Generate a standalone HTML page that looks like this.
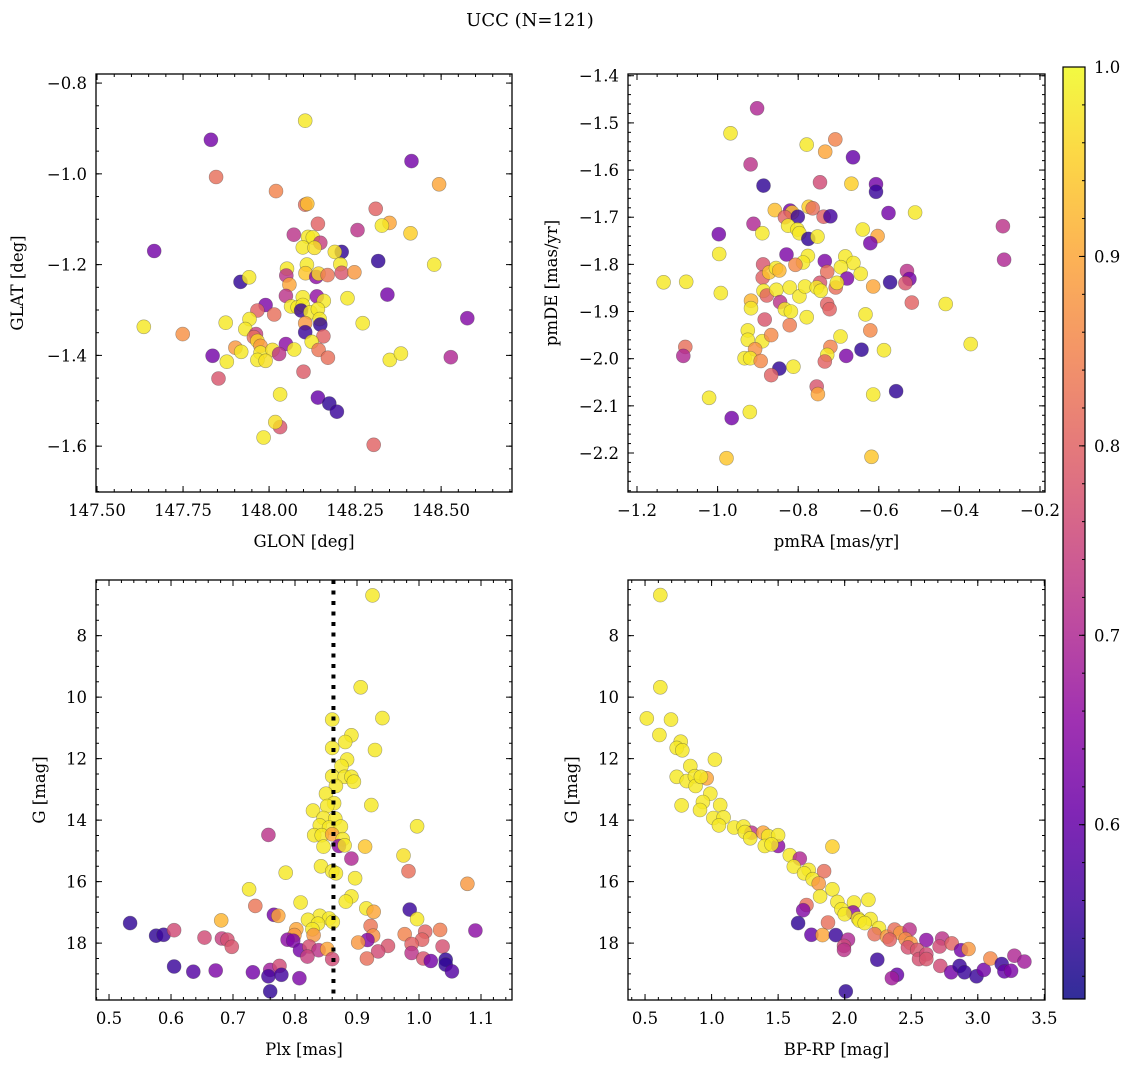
<!DOCTYPE html>
<html><head><meta charset="utf-8">
<style>
html,body{margin:0;padding:0;background:#fff;}
svg{display:block;font-family:"DejaVu Serif","Liberation Serif",serif;}
</style></head>
<body>
<svg id="fig" width="1136" height="1067" viewBox="0 0 1136 1067" xmlns="http://www.w3.org/2000/svg">
<text x="530" y="26" font-size="18" text-anchor="middle">UCC (N=121)</text>
</svg>
<script>
// ---------- Panel 1: GLON vs GLAT ----------
const glonVals=[148.105,147.831,148.414,147.846,148.494,148.020,148.105,148.111,148.310,148.350,148.328,148.142,148.411,148.257,148.072,148.113,148.127,148.149,148.098,148.132,148.211,148.191,147.666,148.317,148.480,148.110,148.207,148.052,148.106,148.050,148.137,148.144,148.170,148.211,148.248,147.917,147.942,148.059,148.049,148.139,148.098,148.228,148.344,148.159,148.064,148.083,148.098,147.990,148.093,148.120,148.142,148.147,148.149,147.966,148.015,148.105,148.105,148.576,147.874,147.943,147.931,147.636,147.749,147.962,147.956,147.966,148.272,148.158,148.124,148.049,147.975,147.902,147.919,147.975,148.010,148.029,148.073,148.144,148.171,147.836,147.877,147.966,147.990,148.351,148.383,148.528,147.853,148.100,148.032,148.142,148.175,148.197,148.032,148.018,147.984,148.304];
const glatVals=[-0.883,-0.925,-0.972,-1.007,-1.023,-1.038,-1.068,-1.066,-1.077,-1.108,-1.114,-1.110,-1.131,-1.124,-1.134,-1.139,-1.140,-1.152,-1.162,-1.163,-1.172,-1.172,-1.170,-1.192,-1.200,-1.200,-1.199,-1.209,-1.219,-1.224,-1.227,-1.220,-1.223,-1.218,-1.217,-1.238,-1.228,-1.244,-1.269,-1.270,-1.272,-1.274,-1.266,-1.280,-1.292,-1.294,-1.289,-1.289,-1.301,-1.305,-1.298,-1.320,-1.332,-1.301,-1.310,-1.329,-1.349,-1.318,-1.328,-1.320,-1.342,-1.337,-1.353,-1.353,-1.360,-1.368,-1.329,-1.358,-1.370,-1.375,-1.379,-1.383,-1.392,-1.394,-1.388,-1.397,-1.387,-1.388,-1.405,-1.401,-1.414,-1.410,-1.412,-1.410,-1.396,-1.404,-1.451,-1.436,-1.486,-1.493,-1.506,-1.524,-1.558,-1.547,-1.581,-1.597];
const probP1=[0.98,0.62,0.62,0.82,0.9,0.85,0.82,0.93,0.8,0.9,0.98,0.8,0.95,0.72,0.72,0.98,0.98,0.74,0.98,0.97,0.54,0.97,0.62,0.54,0.98,0.98,0.98,0.98,0.94,0.72,0.65,0.96,0.83,0.78,0.88,0.54,0.98,0.9,0.72,0.66,0.98,0.98,0.62,0.98,0.98,0.98,0.98,0.63,0.55,0.98,0.98,0.98,0.54,0.8,0.82,0.88,0.55,0.64,0.98,0.98,0.98,0.98,0.87,0.74,0.82,0.96,0.98,0.8,0.98,0.65,0.88,0.88,0.98,0.98,0.97,0.72,0.98,0.83,0.82,0.62,0.98,0.98,0.97,0.98,0.98,0.7,0.78,0.79,0.98,0.6,0.54,0.55,0.78,0.97,0.98,0.8];
const p1XTicks=[147.50,147.75,148.00,148.25,148.50];
const p1YTicks=[-0.8,-1.0,-1.2,-1.4,-1.6];

// ---------- Panel 2: pmRA vs pmDE ----------
const pmraVals=[-0.902,-0.968,-0.779,-0.708,-0.733,-0.664,-0.918,-0.886,-0.746,-0.668,-0.607,-0.607,-0.858,-0.820,-0.815,-0.833,-0.801,-0.774,-0.764,-0.737,-0.720,-0.576,-0.510,-0.911,-0.825,-0.802,-0.797,-0.889,-0.775,-0.752,-0.640,-0.603,-0.621,-0.997,-0.996,-0.829,-0.776,-0.788,-0.807,-0.734,-0.683,-0.663,-0.694,-0.887,-0.888,-0.872,-0.855,-0.847,-0.728,-0.645,-0.679,-0.530,-0.524,-0.534,-0.572,-0.292,-0.289,-1.134,-1.078,-0.992,-0.886,-0.878,-0.854,-0.821,-0.797,-0.783,-0.746,-0.754,-0.744,-0.707,-0.704,-0.614,-0.917,-0.917,-0.845,-0.833,-0.818,-0.728,-0.722,-0.518,-0.434,-0.883,-0.779,-0.821,-0.633,-0.621,-0.925,-0.925,-0.889,-0.867,-0.907,-0.933,-0.919,-0.893,-0.695,-0.720,-0.728,-0.734,-0.681,-0.643,-0.587,-0.372,-1.080,-1.085,-0.847,-0.867,-0.812,-0.754,-0.751,-0.614,-0.557,-1.021,-0.920,-0.965,-0.978,-0.618];
const pmdeVals=[-1.469,-1.522,-1.546,-1.535,-1.561,-1.573,-1.588,-1.633,-1.626,-1.629,-1.630,-1.646,-1.685,-1.686,-1.690,-1.700,-1.699,-1.678,-1.681,-1.699,-1.698,-1.691,-1.690,-1.714,-1.718,-1.726,-1.734,-1.734,-1.746,-1.741,-1.726,-1.740,-1.755,-1.736,-1.778,-1.779,-1.782,-1.796,-1.801,-1.793,-1.783,-1.797,-1.806,-1.800,-1.828,-1.817,-1.808,-1.813,-1.816,-1.820,-1.830,-1.814,-1.831,-1.840,-1.838,-1.719,-1.790,-1.838,-1.837,-1.861,-1.856,-1.866,-1.854,-1.849,-1.868,-1.847,-1.839,-1.849,-1.856,-1.849,-1.839,-1.847,-1.877,-1.893,-1.880,-1.895,-1.900,-1.884,-1.895,-1.881,-1.884,-1.917,-1.912,-1.929,-1.906,-1.940,-1.940,-1.960,-1.963,-1.950,-1.980,-1.999,-1.999,-2.005,-1.953,-1.975,-1.992,-2.006,-1.994,-1.981,-1.982,-1.969,-1.975,-1.994,-2.021,-2.035,-2.017,-2.059,-2.075,-2.076,-2.069,-2.083,-2.113,-2.126,-2.211,-2.208];
const probP2=[0.7,0.98,0.98,0.85,0.9,0.6,0.72,0.54,0.76,0.95,0.62,0.55,0.93,0.62,0.94,0.8,0.55,0.95,0.82,0.8,0.56,0.62,0.98,0.7,0.98,0.98,0.98,0.98,0.54,0.98,0.98,0.9,0.62,0.62,0.98,0.63,0.98,0.98,0.86,0.63,0.98,0.98,0.98,0.78,0.8,0.94,0.98,0.92,0.82,0.98,0.63,0.72,0.62,0.78,0.54,0.72,0.7,0.98,0.98,0.98,0.98,0.8,0.98,0.98,0.98,0.98,0.78,0.98,0.98,0.82,0.98,0.9,0.92,0.98,0.72,0.98,0.98,0.8,0.8,0.8,0.98,0.78,0.98,0.84,0.98,0.86,0.98,0.98,0.98,0.86,0.87,0.98,0.98,0.86,0.98,0.85,0.98,0.8,0.63,0.54,0.98,0.98,0.82,0.7,0.54,0.8,0.98,0.78,0.9,0.98,0.54,0.98,0.98,0.62,0.94,0.94];
const p2XTicks=[-1.2,-1.0,-0.8,-0.6,-0.4,-0.2];
const p2YTicks=[-1.4,-1.5,-1.6,-1.7,-1.8,-1.9,-2.0,-2.1,-2.2];

// ---------- Panel 3: Plx vs G ----------
const plxVals=[0.925,0.906,0.941,0.860,0.891,0.881,0.929,0.860,0.884,0.875,0.860,0.880,0.891,0.895,0.866,0.850,0.863,0.852,0.923,0.829,0.846,0.865,0.840,0.855,0.874,0.997,0.757,0.831,0.843,0.860,0.877,0.871,0.880,0.846,0.913,0.891,0.975,0.842,0.860,0.866,0.983,0.785,0.897,1.078,0.726,0.891,0.882,0.809,0.736,0.915,0.927,0.766,0.773,0.985,0.997,0.840,0.855,0.821,0.837,0.861,0.681,0.534,0.828,0.802,0.576,0.588,0.605,0.654,0.682,0.691,0.698,0.799,0.830,0.788,0.797,0.922,0.926,0.917,0.902,0.977,1.010,1.034,1.091,1.005,0.988,1.038,0.950,0.934,0.808,0.823,0.838,0.852,0.820,0.860,0.916,0.988,1.007,1.019,1.043,1.043,1.053,0.605,0.636,0.672,0.732,0.760,0.775,0.757,0.778,0.807,0.760];
const gPlxVals=[6.69,9.68,10.68,10.73,11.24,11.46,11.72,11.65,12.03,12.24,12.57,12.59,12.59,12.75,12.89,13.14,13.45,13.54,13.51,13.69,13.93,13.95,14.17,14.24,14.21,14.20,14.48,14.49,14.49,14.46,14.62,14.84,14.82,14.86,14.86,15.25,15.15,15.50,15.66,15.73,15.66,15.71,15.89,16.07,16.25,16.48,16.65,16.68,16.79,16.87,16.98,17.08,17.11,16.91,17.22,17.11,17.20,17.24,17.37,17.31,17.26,17.35,17.55,17.55,17.76,17.73,17.58,17.82,17.85,17.89,18.12,17.74,17.74,17.89,17.92,17.44,17.76,17.90,17.98,17.71,17.63,17.57,17.59,17.89,18.03,18.11,18.09,18.27,18.23,18.11,18.23,18.19,18.44,18.52,18.50,18.32,18.50,18.58,18.54,18.70,18.92,18.76,18.93,18.89,18.95,18.87,18.74,19.08,19.03,19.14,19.57];
const probP3=[0.98,0.98,0.98,0.98,0.98,0.98,0.98,0.98,0.98,0.98,0.98,0.98,0.98,0.98,0.98,0.98,0.98,0.98,0.98,0.98,0.98,0.98,0.98,0.98,0.98,0.98,0.72,0.98,0.98,0.9,0.98,0.65,0.98,0.98,0.94,0.7,0.97,0.98,0.98,0.98,0.82,0.98,0.98,0.88,0.98,0.98,0.98,0.98,0.83,0.98,0.9,0.62,0.9,0.55,0.98,0.98,0.98,0.98,0.98,0.98,0.92,0.54,0.98,0.9,0.54,0.55,0.76,0.76,0.74,0.77,0.78,0.88,0.88,0.65,0.63,0.83,0.87,0.64,0.88,0.85,0.8,0.84,0.65,0.8,0.8,0.77,0.78,0.76,0.62,0.77,0.72,0.9,0.74,0.76,0.82,0.72,0.78,0.62,0.54,0.54,0.58,0.55,0.58,0.63,0.62,0.68,0.76,0.56,0.56,0.63,0.54];
const plxRef=[0.862];
const p3XTicks=[0.5,0.6,0.7,0.8,0.9,1.0,1.1];
const p3YTicks=[8,10,12,14,16,18];

// ---------- Panel 4: BP-RP vs G ----------
const bprpVals=[0.615,0.615,0.513,0.695,0.608,0.768,0.738,0.780,1.025,0.840,0.738,0.813,0.875,0.880,0.963,0.920,0.990,0.935,0.913,0.775,1.065,1.013,1.090,1.055,1.170,1.240,1.300,1.250,1.290,1.388,1.425,1.500,1.500,1.400,1.450,1.908,1.588,1.663,1.618,1.730,1.695,1.845,1.760,1.805,1.908,1.815,1.945,2.070,2.178,1.713,1.688,1.975,2.063,2.000,2.100,2.195,2.113,2.150,1.650,1.875,2.258,2.225,1.750,1.833,1.933,2.025,1.995,1.995,2.318,2.375,2.418,2.338,2.488,2.458,2.495,2.475,2.613,2.545,2.558,2.613,2.613,2.733,2.713,2.805,2.718,2.245,2.393,2.355,2.008,2.875,2.930,2.800,2.863,2.900,2.990,3.045,3.095,3.180,3.200,3.250,3.275,3.350];
const gCmdVals=[6.68,9.68,10.69,10.73,11.23,11.45,11.65,11.73,12.03,12.24,12.59,12.73,12.57,12.89,12.64,12.59,13.14,13.41,13.67,13.52,13.51,13.93,13.91,14.17,14.24,14.21,14.41,14.39,14.59,14.41,14.52,14.84,14.49,14.84,14.79,14.86,15.14,15.25,15.51,15.62,15.73,15.66,15.92,16.06,16.25,16.48,16.66,16.68,16.59,16.76,16.93,16.90,17.00,17.06,17.20,17.22,17.27,17.35,17.35,17.33,17.51,17.71,17.73,17.74,17.74,17.89,18.09,18.22,17.79,17.56,17.67,17.89,17.56,17.87,18.00,18.14,17.90,18.22,18.52,18.36,18.52,17.85,18.11,18.01,18.74,18.54,19.03,19.14,19.57,18.23,18.19,18.95,18.74,18.95,19.08,18.87,18.50,18.68,18.92,18.90,18.41,18.60];
const probP4=[0.98,0.98,0.98,0.98,0.98,0.98,0.98,0.98,0.98,0.98,0.98,0.98,0.98,0.98,0.9,0.98,0.98,0.98,0.98,0.98,0.98,0.98,0.98,0.98,0.98,0.98,0.72,0.98,0.98,0.9,0.98,0.65,0.98,0.98,0.98,0.95,0.98,0.7,0.98,0.98,0.98,0.82,0.98,0.88,0.98,0.98,0.98,0.98,0.98,0.82,0.64,0.98,0.65,0.98,0.98,0.98,0.98,0.98,0.54,0.82,0.98,0.82,0.6,0.9,0.55,0.7,0.75,0.72,0.88,0.82,0.88,0.8,0.72,0.86,0.88,0.77,0.65,0.78,0.77,0.76,0.78,0.72,0.76,0.8,0.76,0.55,0.6,0.68,0.54,0.62,0.88,0.62,0.55,0.55,0.55,0.62,0.86,0.55,0.6,0.63,0.7,0.68];
const p4XTicks=[0.5,1.0,1.5,2.0,2.5,3.0,3.5];
const p4YTicks=[8,10,12,14,16,18];

// ---------- Colorbar ----------
const cbTicks=[0.6,0.7,0.8,0.9,1.0];
const cbMin=0.508, cbMax=1.0;

const NS='http://www.w3.org/2000/svg';
const svg=document.getElementById('fig');
function mk(tag,attrs,parent){const e=document.createElementNS(NS,tag);for(const k in attrs)e.setAttribute(k,attrs[k]);(parent||svg).appendChild(e);return e;}

const plasmaStops=[[13,8,135],[65,4,157],[106,0,168],[143,13,164],[177,42,144],[204,71,120],[225,100,98],[242,132,75],[252,166,54],[252,206,37],[240,249,33]];
function plasma(t){t=Math.max(0,Math.min(1,t));const f=t*10;const i=Math.min(9,Math.floor(f));const u=f-i;const a=plasmaStops[i],b=plasmaStops[i+1];
 return 'rgb('+[0,1,2].map(k=>Math.round(a[k]+(b[k]-a[k])*u)).join(',')+')';}
function colorOf(p){return plasma((p-cbMin)/(cbMax-cbMin));}

function fmt(v,d){const s=Math.abs(v).toFixed(d);return (v<0?'\u2212':'')+s;}
const FS=16.5;

function panel(cfg){
 const g=mk('g',{});
 
 
 const L=cfg.box[0],T=cfg.box[1],R=cfg.box[2],B=cfg.box[3];
 const sx=v=>L+(v-cfg.xr[0])/(cfg.xr[1]-cfg.xr[0])*(R-L);
 const sy=v=>cfg.yinv? T+(v-cfg.yr[0])/(cfg.yr[1]-cfg.yr[0])*(B-T) : B-(v-cfg.yr[0])/(cfg.yr[1]-cfg.yr[0])*(B-T);
 const pts=mk('g',{},g);
 
 
 for(let i=0;i<cfg.xs.length;i++){
  const c=mk('circle',{cx:sx(cfg.xs[i]).toFixed(1),cy:sy(cfg.ys[i]).toFixed(1),r:7,fill:colorOf(cfg.ps[i]),'fill-opacity':0.82,stroke:'rgba(60,60,60,0.45)','stroke-width':0.6},pts);
  
  
 }
 if(cfg.vline){
  const vl=mk('line',{x1:sx(cfg.vline[0]),x2:sx(cfg.vline[0]),y1:T,y2:B,stroke:'#000','stroke-width':4,'stroke-dasharray':'4,6.5'},g);
  
  
 }
 const fr=mk('rect',{x:L,y:T,width:R-L,height:B-T,fill:'none',stroke:'#000','stroke-width':1.3},g);
 
 
 const tk=mk('g',{stroke:'#000','stroke-width':1},g);
 
 
 const x0=Math.ceil(cfg.xr[0]/cfg.xminor-1e-6)*cfg.xminor;
 for(let v=x0;v<=cfg.xr[1]+1e-9;v+=cfg.xminor){const x=sx(v);mk('line',{x1:x,x2:x,y1:B,y2:B-3},tk);mk('line',{x1:x,x2:x,y1:T,y2:T+3},tk);}
 const ylo=Math.min(cfg.yr[0],cfg.yr[1]),yhi=Math.max(cfg.yr[0],cfg.yr[1]);
 const y0=Math.ceil(ylo/cfg.yminor-1e-6)*cfg.yminor;
 for(let v=y0;v<=yhi+1e-9;v+=cfg.yminor){const y=sy(v);mk('line',{x1:L,x2:L+3,y1:y,y2:y},tk);mk('line',{x1:R,x2:R-3,y1:y,y2:y},tk);}
 cfg.xt.forEach(v=>{const x=sx(v);mk('line',{x1:x,x2:x,y1:B,y2:B-6},tk);mk('line',{x1:x,x2:x,y1:T,y2:T+6},tk);
  const t=mk('text',{x:x,y:B+24,'font-size':FS,'text-anchor':'middle'},g);t.textContent=fmt(v,cfg.xd);
  
  });
 cfg.yt.forEach(v=>{const y=sy(v);mk('line',{x1:L,x2:L+6,y1:y,y2:y},tk);mk('line',{x1:R,x2:R-6,y1:y,y2:y},tk);
  const t=mk('text',{x:L-9,y:y+6,'font-size':FS,'text-anchor':'end'},g);t.textContent=fmt(v,cfg.yd);
  
  });
 const xl=mk('text',{x:(L+R)/2,y:B+55,'font-size':FS,'text-anchor':'middle'},g);xl.textContent=cfg.xlabel;
 
 
 const yl=mk('text',{x:0,y:0,'font-size':FS,'text-anchor':'middle',transform:'translate('+cfg.ylx+','+(T+B)/2+') rotate(-90)'},g);yl.textContent=cfg.ylabel;
 
 
}

panel({name:'glon-glat-panel',box:[96,74,512,492],xr:[147.497,148.706],yr:[-1.701,-0.780],xs:glonVals,ys:glatVals,ps:probP1,xt:p1XTicks,yt:p1YTicks,xd:2,yd:1,xminor:0.05,yminor:0.05,xlabel:'GLON [deg]',ylabel:'GLAT [deg]',ylx:23});
panel({name:'pm-panel',box:[628,74,1045,492],xr:[-1.2223,-0.1876],yr:[-2.2827,-1.3963],xs:pmraVals,ys:pmdeVals,ps:probP2,xt:p2XTicks,yt:p2YTicks,xd:1,yd:1,xminor:0.05,yminor:0.02,xlabel:'pmRA [mas/yr]',ylabel:'pmDE [mas/yr]',ylx:557});
panel({name:'plx-g-panel',box:[96,580,512,1000],xr:[0.479,1.150],yr:[6.19,19.85],yinv:true,xs:plxVals,ys:gPlxVals,ps:probP3,vline:plxRef,xt:p3XTicks,yt:p3YTicks,xd:1,yd:0,xminor:0.02,yminor:0.5,xlabel:'Plx [mas]',ylabel:'G [mag]',ylx:45});
panel({name:'cmd-panel',box:[628,580,1045,1000],xr:[0.372,3.505],yr:[6.19,19.85],yinv:true,xs:bprpVals,ys:gCmdVals,ps:probP4,xt:p4XTicks,yt:p4YTicks,xd:1,yd:0,xminor:0.1,yminor:0.5,xlabel:'BP-RP [mag]',ylabel:'G [mag]',ylx:577});

(function(){
 const L=1063,R=1085,T=67,B=999;
 const cg=mk('g',{});
 
 
 const defs=mk('defs',{},cg);
 const lg=mk('linearGradient',{id:'cbg',x1:0,y1:1,x2:0,y2:0},defs);
 for(let i=0;i<=20;i++){mk('stop',{offset:i/20,'stop-color':plasma(i/20),'stop-opacity':0.85},lg);}
 mk('rect',{x:L,y:T,width:R-L,height:B-T,fill:'url(#cbg)',stroke:'#000','stroke-width':1.2},cg);
 const sy=v=>B-(v-cbMin)/(cbMax-cbMin)*(B-T);
 for(let v=0.52;v<=1.0001;v+=0.02){const y=sy(v);mk('line',{x1:R,x2:R-3,y1:y,y2:y,stroke:'#000','stroke-width':1},cg);}
 cbTicks.forEach(v=>{const y=sy(v);mk('line',{x1:R,x2:R-6,y1:y,y2:y,stroke:'#000','stroke-width':1},cg);
  const t=mk('text',{x:1094,y:y+6,'font-size':FS},cg);t.textContent=v.toFixed(1);
  
  });
})();
</script>
</body></html>
